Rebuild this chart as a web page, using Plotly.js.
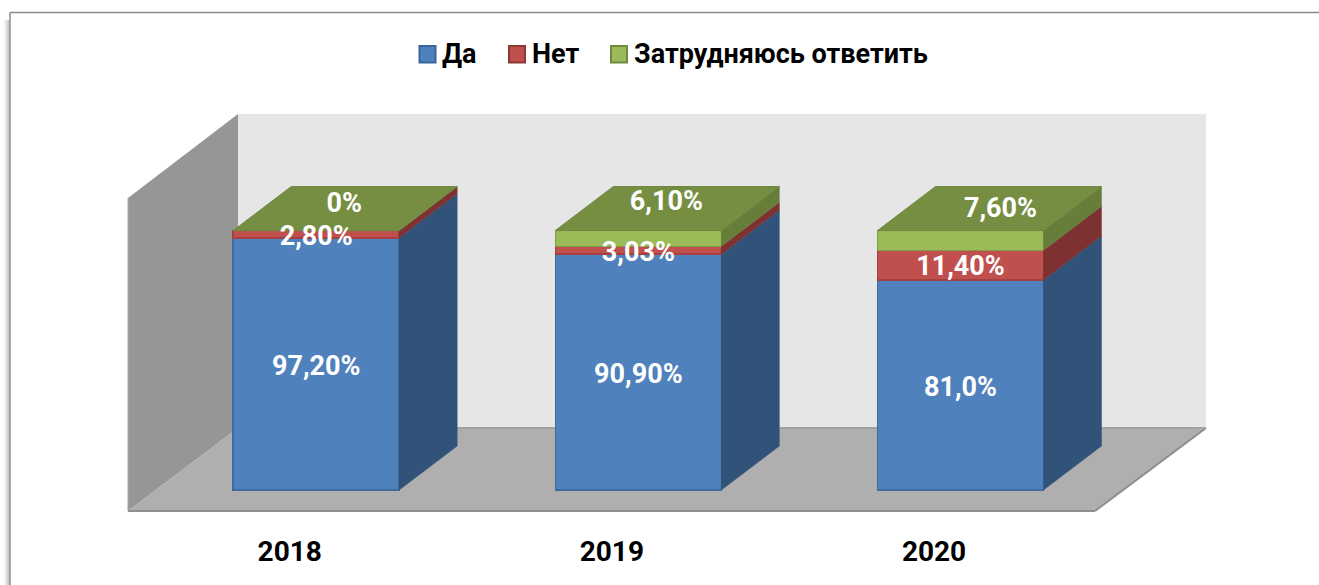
<!DOCTYPE html>
<html><head><meta charset="utf-8">
<script src="https://cdn.plot.ly/plotly-3.0.1.min.js"></script>
<style>html,body{margin:0;padding:0;background:#fff;overflow:hidden}</style>
</head><body><div id="chart" style="width:1319px;height:585px"></div>
<script>
const years = ['2018','2019','2020'];
const yes = [97.2, 90.9, 81.0];
const no = [2.8, 3.03, 11.4];
const unsure = [0, 6.1, 7.6];
const yesLabels = ['97,20%','90,90%','81,0%'];
const noLabels = ['2,80%','3,03%','11,40%'];
const unsureLabels = ['0%','6,10%','7,60%'];
const seriesNames = ['Да','Нет','Затрудняюсь ответить'];

// styling
const front = ['#4f81bd','#c0504d','#9bbb59'];
const edge = ['#3f6a9e','#a5403e','#7f9c47'];
const legendEdge = ['#39659a','#8c3836','#71893f'];
const side = ['#325379','#7d3231','#667e3a'];
const topFace = '#768e42';
const W=1319,H=585,MB=53,PX0=490,PXUNIT=2.594,CAT0=316.2,CATSTEP=322.15;
const X=p=>(p-CAT0)/CATSTEP, Y=p=>(PX0-p)/PXUNIT;
const barW=166/CATSTEP, dx=58/CATSTEP, dy=44/PXUNIT;
const series=[yes,no,unsure];
const idx=years.map((_,i)=>i);

const traces=[];
series.forEach((vals,s)=>{
  traces.push({type:'bar',x:idx,y:vals,name:seriesNames[s],width:barW,showlegend:false,
    marker:{color:front[s],line:{color:edge[s],width:1.5}},hoverinfo:'skip'});
});
const bases=idx.map(()=>0);
series.forEach((vals,s)=>{
  const xs=[],ys=[];
  vals.forEach((v,i)=>{
    if(v>0){
      const r=i+barW/2,b=bases[i],t=b+v;
      xs.push(r,r+dx,r+dx,r,r,null);
      ys.push(b,b+dy,t+dy,t,b,null);
    }
    bases[i]+=v;
  });
  traces.push({type:'scatter',mode:'lines',x:xs,y:ys,fill:'toself',fillcolor:side[s],
    line:{color:side[s],width:0.5},showlegend:false,hoverinfo:'skip'});
});
{
  const xs=[],ys=[];
  idx.forEach(i=>{
    const l=i-barW/2,r=i+barW/2,t=bases[i];
    xs.push(l,r,r+dx,l+dx,l,null);
    ys.push(t,t,t+dy,t+dy,t,null);
  });
  traces.push({type:'scatter',mode:'lines',x:xs,y:ys,fill:'toself',fillcolor:topFace,
    line:{color:'#6f8840',width:1},showlegend:false,hoverinfo:'skip'});
}
// data labels: middle of each segment, with hand placement (px, up is positive)
const labelShiftX=[[0,0,0],[0,0,0],[28,28,40]];
const labelShiftY=[[-4.5,-4.5,-4.5],[-4,-4,-3],[3,5,-2]];
const labelBase=idx.map(()=>0);
const lx=[],ly=[],lt=[];
[yesLabels,noLabels,unsureLabels].forEach((labs,s)=>{
  labs.forEach((t,i)=>{
    const v=series[s][i];
    let yy=labelBase[i]+v/2;
    if(s===2) yy=labelBase[i]+v+dy/2;
    lx.push(i+labelShiftX[s][i]/CATSTEP);
    ly.push(yy+labelShiftY[s][i]/PXUNIT);
    lt.push(t);
    labelBase[i]+=v;
  });
});
traces.push({type:'scatter',mode:'text',x:lx,y:ly,text:lt,textposition:'middle center',cliponaxis:false,
  textfont:{family:'Roboto',size:27,color:'#fff',weight:700},showlegend:false,hoverinfo:'skip'});

const poly=(pts,fill,line,lw)=>({type:'path',xref:'x',yref:'y',layer:'below',
  path:'M'+pts.map(p=>X(p[0])+','+Y(p[1])).join('L')+'Z',fillcolor:fill,line:{color:line||fill,width:lw||0}});
const seg=(a,b,c,w,layer)=>({type:'line',xref:'x',yref:'y',layer:layer||'below',x0:X(a[0]),y0:Y(a[1]),x1:X(b[0]),y1:Y(b[1]),line:{color:c,width:w}});
const PX=p=>p/W, PY=p=>((H-MB)-p)/(H-MB);
const pseg=(a,b,c,w)=>({type:'line',xref:'paper',yref:'paper',layer:'below',x0:PX(a[0]),y0:PY(a[1]),x1:PX(b[0]),y1:PY(b[1]),line:{color:c,width:w}});
const shapes=[];
// soft shadow on the left of the frame
[[9,.28],[8,.20],[7,.14],[6,.09],[5,.05],[4,.025]].forEach(([x,a])=>shapes.push(pseg([x,20],[x,585],'rgba(0,0,0,'+a+')',1)));
shapes.push(pseg([10,12.5],[10,585],'#8c8c8c',1.5));
shapes.push(pseg([10,12.5],[1319,12.5],'#8c8c8c',1.5));
shapes.push(poly([[238,114],[1206,114],[1206,428],[238,428]],'#e6e6e6'));
shapes.push(poly([[128,198],[238,114],[238,428],[128,511]],'#969696'));
shapes.push(poly([[128,511],[238,428],[1206,428],[1095,511]],'#afafaf'));
shapes.push(seg([128,511],[1095,511],'#8e8e8e',2));
shapes.push(seg([1095,511],[1206,428],'#8e8e8e',2));
shapes.push(seg([238,428],[1206,428],'#a2a2a2',2));
shapes.push(seg([128,198],[128,511],'#a8a8a8',1));

// legend, laid out as in the reference
const legendSwatch=[419.5,509,611];
const legendText=[441,531,633];
const annotations=[];
seriesNames.forEach((n,s)=>{
  shapes.push({type:'rect',xref:'paper',yref:'paper',x0:PX(legendSwatch[s]),x1:PX(legendSwatch[s]+16),y0:PY(62.5),y1:PY(46),
    fillcolor:front[s],line:{color:legendEdge[s],width:2}});
  annotations.push({xref:'paper',yref:'paper',x:PX(legendText[s]),y:PY(54),xanchor:'left',yanchor:'middle',showarrow:false,
    text:n,xshift:-1,font:{family:'Roboto',size:27,color:'#000',weight:700}});
});

const layout={
  width:W,height:H,margin:{l:0,r:0,t:0,b:MB,pad:0},paper_bgcolor:'#fff',plot_bgcolor:'#fff',
  barmode:'stack',showlegend:false,
  font:{family:'Roboto',color:'#000'},
  xaxis:{range:[X(0),X(W)],tickmode:'array',tickvals:idx.map(i=>i-26.5/CATSTEP),ticktext:years,showgrid:false,zeroline:false,showline:false,ticks:'',
    tickfont:{family:'Roboto',size:28,color:'#000',weight:700},fixedrange:true},
  yaxis:{range:[Y(H-MB),Y(0)],visible:false,showgrid:false,zeroline:false,fixedrange:true},
  shapes,annotations
};
Plotly.newPlot('chart',traces,layout,{displayModeBar:false});
</script></body></html>
